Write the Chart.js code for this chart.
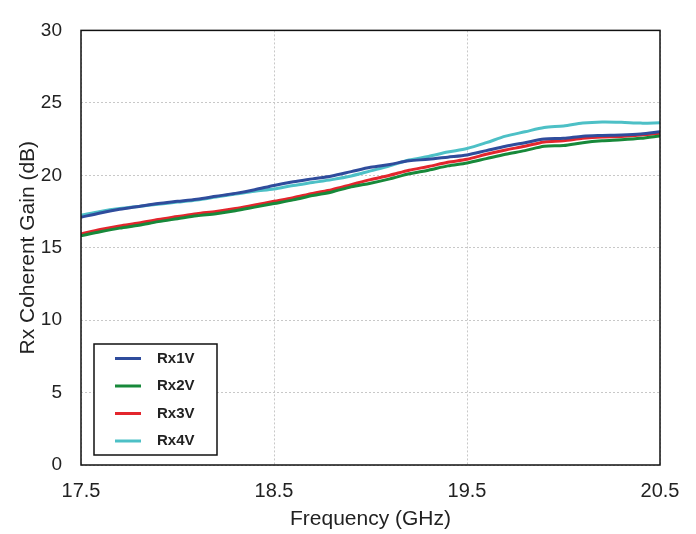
<!DOCTYPE html>
<html lang="en">
<head>
    <meta charset="UTF-8">
    <title>Rx Coherent Gain</title>
    <style>
        html, body {
            margin: 0;
            padding: 0;
            background: #fff;
        }
        #wrap {
            width: 696px;
            height: 534px;
        }
    </style>
</head>
<body>
    <div id="wrap"><canvas id="gainChart" width="696" height="534"></canvas></div>

    <script src="https://cdn.jsdelivr.net/npm/chart.js"></script>
    <script>
        // frequency points (GHz)
        const freq = [17.5, 17.6, 17.7, 17.8, 17.9, 18.0, 18.1, 18.2, 18.3, 18.4,
                      18.5, 18.6, 18.7, 18.8, 18.9, 19.0, 19.1, 19.2, 19.3, 19.4,
                      19.5, 19.6, 19.7, 19.8, 19.9, 20.0, 20.1, 20.2, 20.3, 20.4, 20.5];

        const rx1v = [17.1, 17.4, 17.65, 17.85, 18.05, 18.2, 18.35, 18.55, 18.75, 19.0,
                      19.3, 19.55, 19.75, 19.95, 20.25, 20.55, 20.75, 21.0, 21.1, 21.25,
                      21.4, 21.7, 22.0, 22.25, 22.5, 22.55, 22.7, 22.75, 22.78, 22.85, 23.0];
        const rx2v = [15.82, 16.1, 16.35, 16.55, 16.8, 17.0, 17.2, 17.35, 17.55, 17.8,
                      18.05, 18.3, 18.6, 18.85, 19.2, 19.45, 19.75, 20.1, 20.35, 20.65,
                      20.85, 21.15, 21.45, 21.7, 22.0, 22.05, 22.25, 22.38, 22.45, 22.55, 22.72];
        const rx3v = [15.95, 16.25, 16.5, 16.7, 16.95, 17.15, 17.35, 17.5, 17.7, 17.95,
                      18.2, 18.45, 18.75, 19.0, 19.35, 19.7, 20.0, 20.35, 20.6, 20.9,
                      21.1, 21.45, 21.75, 22.0, 22.3, 22.38, 22.55, 22.65, 22.68, 22.78, 22.9];
        const rx4v = [17.25, 17.5, 17.7, 17.85, 18.0, 18.15, 18.3, 18.5, 18.7, 18.9,
                      19.05, 19.3, 19.5, 19.7, 19.95, 20.3, 20.65, 21.05, 21.3, 21.6,
                      21.85, 22.25, 22.7, 23.0, 23.3, 23.4, 23.6, 23.68, 23.66, 23.6, 23.62];

        const xTicks = [17.5, 18.5, 19.5, 20.5];
        const yTicks = [0, 5, 10, 15, 20, 25, 30];

        const seriesNames = ['Rx1V', 'Rx2V', 'Rx3V', 'Rx4V'];
        const seriesColors = ['#2f4c9c', '#17893a', '#e3262d', '#4dc0c6'];
        const seriesData = [rx1v, rx2v, rx3v, rx4v];

        const fontFamily = 'Arial, "Liberation Sans", sans-serif';

        // frame around the plot + boxed legend at lower left
        const framePlugin = {
            id: 'frame',
            afterDatasetsDraw(chart) {
                const ctx = chart.ctx;
                const a = chart.chartArea;
                ctx.save();
                ctx.strokeStyle = '#111';
                ctx.lineWidth = 1.5;
                ctx.strokeRect(a.left, a.top, a.right - a.left, a.bottom - a.top);

                // legend box
                const bx = a.left + 13, by = a.bottom - 121, bw = 123, bh = 111;
                ctx.fillStyle = '#fff';
                ctx.fillRect(bx, by, bw, bh);
                ctx.strokeStyle = '#111';
                ctx.lineWidth = 1.5;
                ctx.strokeRect(bx, by, bw, bh);
                ctx.font = 'bold 15px ' + fontFamily;
                ctx.textBaseline = 'middle';
                ctx.textAlign = 'left';
                seriesNames.forEach((name, i) => {
                    const y = by + 14.5 + i * 27.5;
                    ctx.strokeStyle = seriesColors[i];
                    ctx.lineWidth = 3;
                    ctx.beginPath();
                    ctx.moveTo(bx + 21, y);
                    ctx.lineTo(bx + 47, y);
                    ctx.stroke();
                    ctx.fillStyle = '#222';
                    ctx.fillText(name, bx + 63, y);
                });
                ctx.restore();
            }
        };

        const ctx = document.getElementById('gainChart').getContext('2d');
        const gainChart = new Chart(ctx, {
            type: 'line',
            data: {
                datasets: seriesNames.map((name, i) => ({
                    label: name,
                    data: freq.map((f, j) => ({ x: f, y: seriesData[i][j] })),
                    borderColor: seriesColors[i],
                    borderWidth: 3,
                    pointRadius: 0,
                    tension: 0.3,
                    fill: false
                }))
            },
            options: {
                responsive: false,
                animation: false,
                layout: {
                    padding: { left: 0, top: 20, right: 36, bottom: 0 }
                },
                plugins: {
                    legend: { display: false },
                    tooltip: { enabled: false }
                },
                scales: {
                    x: {
                        type: 'linear',
                        min: 17.5,
                        max: 20.5,
                        afterBuildTicks(axis) {
                            axis.ticks = xTicks.map(v => ({ value: v }));
                        },
                        afterFit(axis) {
                            axis.height = 69;
                        },
                        grid: {
                            color: '#c8c8c8',
                            lineWidth: 1,
                            drawTicks: false
                        },
                        border: { display: false, dash: [2, 2] },
                        ticks: {
                            padding: 14,
                            color: '#222',
                            font: { family: fontFamily, size: 20 },
                            maxRotation: 0,
                            callback: v => v.toFixed(1)
                        },
                        title: {
                            display: true,
                            text: 'Frequency (GHz)',
                            color: '#222',
                            font: { family: fontFamily, size: 21 },
                            padding: { top: 0, bottom: 2 }
                        }
                    },
                    y: {
                        min: 0,
                        max: 30,
                        afterBuildTicks(axis) {
                            axis.ticks = yTicks.map(v => ({ value: v }));
                        },
                        afterFit(axis) {
                            axis.width = 81;
                        },
                        grid: {
                            color: '#c8c8c8',
                            lineWidth: 1,
                            drawTicks: false
                        },
                        border: { display: false, dash: [2, 2] },
                        ticks: {
                            padding: 19,
                            color: '#222',
                            font: { family: fontFamily, size: 19 }
                        },
                        title: {
                            display: true,
                            text: 'Rx Coherent Gain (dB)',
                            color: '#222',
                            font: { family: fontFamily, size: 21 },
                            padding: { top: 16, bottom: 0 }
                        }
                    }
                }
            },
            plugins: [framePlugin]
        });
    </script>
</body>
</html>
